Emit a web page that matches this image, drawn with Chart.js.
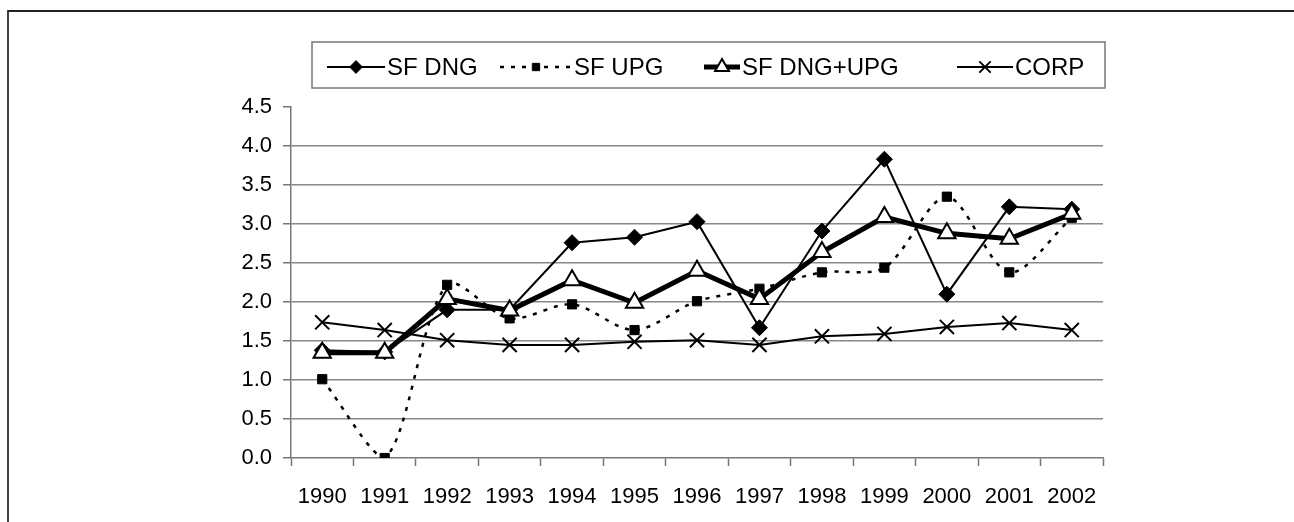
<!DOCTYPE html>
<html>
<head>
<meta charset="utf-8">
<script src="https://cdn.jsdelivr.net/npm/chart.js@4"></script>
<style>
  html, body { margin: 0; padding: 0; background: #fff; }
  #wrap { position: relative; width: 1294px; height: 522px; overflow: hidden; }
  #frame { position: absolute; left: 7px; top: 10px; width: 1400px; height: 600px;
           border-top: 2px solid #222; border-left: 2px solid #444; }
  canvas { position: absolute; left: 0; top: 0; }
</style>
</head>
<body>
<div id="wrap">
  <div id="frame"></div>
  <canvas id="trendChart" width="1294" height="522"></canvas>
</div>
<script>
const years = ['1990', '1991', '1992', '1993', '1994', '1995', '1996', '1997', '1998', '1999', '2000', '2001', '2002'];
const sfDng = [1.38, 1.36, 1.90, 1.90, 2.76, 2.83, 3.03, 1.67, 2.91, 3.83, 2.10, 3.22, 3.19];
const sfUpg = [1.01, 0.00, 2.22, 1.79, 1.97, 1.64, 2.01, 2.17, 2.38, 2.44, 3.35, 2.38, 3.08];
const sfDngUpg = [1.35, 1.35, 2.04, 1.89, 2.28, 1.99, 2.40, 2.04, 2.64, 3.09, 2.88, 2.81, 3.13];
const corp = [1.74, 1.64, 1.51, 1.45, 1.45, 1.49, 1.51, 1.45, 1.56, 1.59, 1.68, 1.73, 1.64];
const seriesNames = ['SF DNG', 'SF UPG', 'SF DNG+UPG', 'CORP'];

const font = "'Liberation Sans', Arial, sans-serif";

// legend box drawn by hand so the key shows line + marker like the original
const legendBox = {
    id: 'legendBox',
    afterDraw(chart) {
        const ctx = chart.ctx;
        const keys = [
            { cx: 356, half: 29 },
            { cx: 536, half: 36 },
            { cx: 722, half: 18 },
            { cx: 985, half: 28 }
        ];
        const y = 67;
        ctx.save();
        ctx.strokeStyle = '#777';
        ctx.lineWidth = 1.5;
        ctx.strokeRect(312, 42, 793, 46);

        chart.data.datasets.forEach(function (ds, i) {
            const k = keys[i];
            ctx.beginPath();
            ctx.setLineDash(ds.borderDash || []);
            ctx.lineWidth = ds.borderWidth;
            ctx.strokeStyle = '#000';
            ctx.moveTo(k.cx - k.half, y);
            ctx.lineTo(k.cx + k.half, y);
            ctx.stroke();
            ctx.setLineDash([]);
            ctx.fillStyle = ds.pointBackgroundColor;
            ctx.strokeStyle = '#000';
            ctx.lineWidth = ds.pointBorderWidth;
            Chart.helpers.drawPoint(ctx, {
                pointStyle: ds.pointStyle,
                radius: ds.pointRadius * 0.8,
                rotation: 0,
                borderWidth: ds.pointBorderWidth
            }, k.cx, y);
            ctx.fillStyle = '#000';
            ctx.font = '24px ' + font;
            ctx.textBaseline = 'middle';
            ctx.textAlign = 'left';
            ctx.fillText(ds.label, k.cx + k.half + 2, y + 1);
        });
        ctx.restore();
    }
};

const ctx = document.getElementById('trendChart').getContext('2d');
const trendChart = new Chart(ctx, {
    type: 'line',
    data: {
        labels: years,
        datasets: [{
            label: seriesNames[0],
            data: sfDng,
            borderColor: '#000',
            borderWidth: 2,
            pointStyle: 'rectRot',
            pointRadius: 8,
            pointBackgroundColor: '#000',
            pointBorderColor: '#000',
            pointBorderWidth: 1,
            tension: 0,
            order: 4
        }, {
            label: seriesNames[1],
            data: sfUpg,
            borderColor: '#000',
            borderWidth: 2.5,
            borderDash: [4, 7],
            pointStyle: 'rect',
            pointRadius: 6.5,
            pointBackgroundColor: '#000',
            pointBorderColor: '#000',
            pointBorderWidth: 1,
            tension: 0.3,
            order: 3
        }, {
            label: seriesNames[2],
            data: sfDngUpg,
            borderColor: '#000',
            borderWidth: 5,
            pointStyle: 'triangle',
            pointRadius: 10,
            pointBackgroundColor: '#fff',
            pointBorderColor: '#000',
            pointBorderWidth: 2,
            tension: 0,
            order: 2
        }, {
            label: seriesNames[3],
            data: corp,
            borderColor: '#000',
            borderWidth: 2,
            pointStyle: 'crossRot',
            pointRadius: 10,
            pointBackgroundColor: '#000',
            pointBorderColor: '#000',
            pointBorderWidth: 2,
            tension: 0,
            order: 1
        }]
    },
    options: {
        responsive: false,
        animation: false,
        layout: { padding: { top: 107, right: 191, bottom: 0, left: 0 } },
        plugins: {
            legend: { display: false },
            tooltip: { enabled: false }
        },
        scales: {
            x: {
                offset: true,
                afterFit: function (s) { s.height = 64; },
                grid: {
                    offset: true,
                    drawOnChartArea: false,
                    drawTicks: true,
                    tickLength: 8,
                    tickColor: '#777',
                    tickWidth: 1.5
                },
                border: { display: true, color: '#777', width: 1.5 },
                ticks: {
                    color: '#000',
                    font: { family: font, size: 22 },
                    padding: 18,
                    maxRotation: 0,
                    autoSkip: false
                }
            },
            y: {
                min: 0,
                max: 4.5,
                afterFit: function (s) { s.width = 291; },
                grid: {
                    color: function (c) {
                        return (c.tick && (c.tick.value === 0 || c.tick.value === 4.5)) ? 'rgba(0,0,0,0)' : '#888';
                    },
                    lineWidth: 1.5,
                    tickLength: 8,
                    tickColor: '#777',
                    tickWidth: 1.5
                },
                border: { display: true, color: '#777', width: 1.5 },
                ticks: {
                    stepSize: 0.5,
                    color: '#000',
                    font: { family: font, size: 22 },
                    padding: 11,
                    callback: function (v) { return v.toFixed(1); }
                }
            }
        }
    },
    plugins: [legendBox]
});
</script>
</body>
</html>
